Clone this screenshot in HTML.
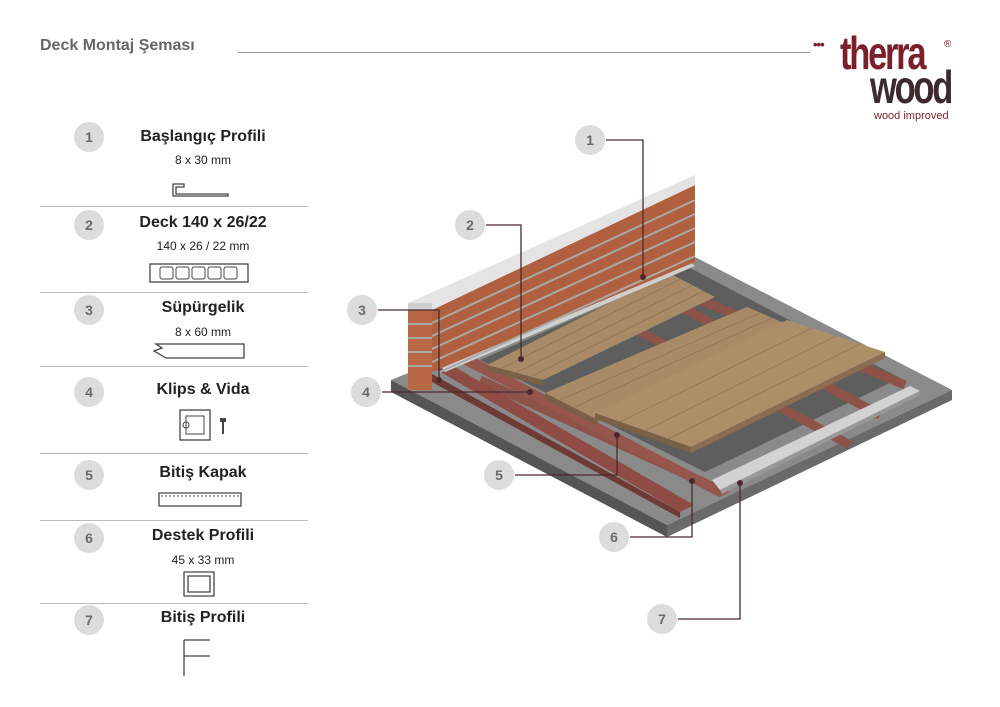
<!DOCTYPE html>
<html><head><meta charset="utf-8"><style>
body{margin:0;width:1000px;height:707px;background:#fff;font-family:"Liberation Sans",sans-serif;position:relative;overflow:hidden}
.t{position:absolute;white-space:nowrap}
.c{position:absolute;width:30px;height:30px;border-radius:50%;background:#dcdcdc;color:#6a6a6a;font-weight:bold;font-size:14px;text-align:center;line-height:30px}
.sep{position:absolute;left:40px;width:268px;height:1px;background:#bbb}
.ti{position:absolute;left:100px;width:206px;text-align:center;font-weight:bold;font-size:16px;color:#222}
.su{position:absolute;left:100px;width:206px;text-align:center;font-size:12px;color:#222}
</style></head><body>
<div class="t" style="left:40px;top:37px;font-size:16px;font-weight:bold;color:#666">Deck Montaj Şeması</div>
<div style="position:absolute;left:238px;top:52px;width:572px;height:1px;background:#999"></div>
<div class="t" style="left:813px;top:37px;font-size:13px;color:#7a1f2b;font-weight:bold;letter-spacing:-1px">•••</div>
<div class="t" style="left:840px;top:30px;font-size:46px;line-height:46px;font-weight:bold;color:#7a1f2b;letter-spacing:-3px;transform:scaleX(0.75);transform-origin:left">therra</div>
<div class="t" style="left:944px;top:39px;font-size:10px;color:#7a1f2b">®</div>
<div class="t" style="left:870px;top:64px;font-size:46px;line-height:46px;font-weight:bold;color:#3d2a2c;letter-spacing:-3px;transform:scaleX(0.75);transform-origin:left">wood</div>
<div class="t" style="left:874px;top:110px;font-size:11px;color:#7a1f2b">wood improved</div>

<div class="c" style="left:74px;top:122px">1</div>
<div class="ti" style="top:128px">Başlangıç Profili</div>
<div class="su" style="top:153px">8 x 30 mm</div>
<svg style="position:absolute;left:170px;top:180px" width="60" height="20"><path d="M14 4H3v12h55v-2H6V7h8z" fill="none" stroke="#444" stroke-width="1.3"/></svg>
<div class="sep" style="top:206px"></div>
<div class="c" style="left:74px;top:210px">2</div>
<div class="ti" style="top:214px">Deck 140 x 26/22</div>
<div class="su" style="top:239px">140 x 26 / 22 mm</div>
<svg style="position:absolute;left:148px;top:262px" width="104" height="22"><rect x="2" y="2" width="98" height="18" fill="none" stroke="#444" stroke-width="1.3"/><g fill="none" stroke="#444"><rect x="12" y="5" width="13" height="12" rx="2"/><rect x="28" y="5" width="13" height="12" rx="2"/><rect x="44" y="5" width="13" height="12" rx="2"/><rect x="60" y="5" width="13" height="12" rx="2"/><rect x="76" y="5" width="13" height="12" rx="2"/></g></svg>
<div class="sep" style="top:292px"></div>
<div class="c" style="left:74px;top:295px">3</div>
<div class="ti" style="top:299px">Süpürgelik</div>
<div class="su" style="top:325px">8 x 60 mm</div>
<svg style="position:absolute;left:152px;top:342px" width="95" height="18"><path d="M4 2H92V16H14L2 9L10 6L4 2Z" fill="none" stroke="#444" stroke-width="1.3"/></svg>
<div class="sep" style="top:366px"></div>
<div class="c" style="left:74px;top:377px">4</div>
<div class="ti" style="top:381px">Klips &amp; Vida</div>
<svg style="position:absolute;left:178px;top:408px" width="60" height="36"><rect x="2" y="2" width="30" height="30" fill="none" stroke="#444" stroke-width="1.3"/><rect x="8" y="8" width="18" height="18" fill="none" stroke="#444"/><circle cx="8" cy="17" r="3" fill="none" stroke="#444"/><path d="M42 10h6v4h-2v12h-2V14h-2z" fill="#444"/></svg>
<div class="sep" style="top:453px"></div>
<div class="c" style="left:74px;top:460px">5</div>
<div class="ti" style="top:464px">Bitiş Kapak</div>
<svg style="position:absolute;left:155px;top:490px" width="90" height="20"><path d="M4 3H86V16H4Z" fill="none" stroke="#444" stroke-width="1.3"/><path d="M6 6H84" stroke="#444" stroke-dasharray="2 2"/></svg>
<div class="sep" style="top:520px"></div>
<div class="c" style="left:74px;top:523px">6</div>
<div class="ti" style="top:527px">Destek Profili</div>
<div class="su" style="top:553px">45 x 33 mm</div>
<svg style="position:absolute;left:182px;top:570px" width="36" height="28"><path d="M2 2H32V26H2Z M6 6H28V22H6Z" fill="none" stroke="#444" stroke-width="1.3"/></svg>
<div class="sep" style="top:603px"></div>
<div class="c" style="left:74px;top:605px">7</div>
<div class="ti" style="top:609px">Bitiş Profili</div>
<svg style="position:absolute;left:180px;top:638px" width="40" height="40"><path d="M4 2V38M4 18H30M4 2H30" fill="none" stroke="#444" stroke-width="1.3"/></svg>

<svg style="position:absolute;left:0;top:0" width="1000" height="707">
<polygon points="391,380 695,257 952,390 667,525" fill="#8a8a8a"/>
<polygon points="391,380 667,525 667,537 391,392" fill="#555"/>
<polygon points="667,525 952,390 952,400 667,537" fill="#6a6a6a"/>
<polygon points="480,360 690,268 900,378 705,472" fill="#5e5e5e"/>
<g stroke="#8d5248" stroke-width="9">
<line x1="480" y1="380" x2="720" y2="490"/><line x1="700" y1="300" x2="905" y2="385"/>
<line x1="600" y1="310" x2="850" y2="445"/><line x1="650" y1="290" x2="880" y2="415"/>
</g>
<polygon points="432,367 446,362 694,505 680,512" fill="#8e4c44"/>
<polygon points="432,374 680,512 680,518 432,382" fill="#6e3a33"/>
<polygon points="461,363 475,358 730,492 719,497" fill="#96564c"/>
<polygon points="712,480 910,386 920,391 720,490" fill="#d2d2d2"/>
<polygon points="720,490 920,391 920,395 722,494" fill="#999"/>
<polygon points="487,365 669,273 715,297 543,380" fill="#a88b66"/>
<polygon points="487,365 543,380 543,386 487,371" fill="#7a6044"/>
<polygon points="545,393 747,307 784,323 598,420" fill="#a88b66"/>
<polygon points="545,393 598,420 598,426 545,399" fill="#7a6044"/>
<polygon points="595,413 787,320 885,352 691,447" fill="#ac8f69"/>
<polygon points="595,413 691,447 691,453 595,419" fill="#7a6044"/>
<polygon points="691,447 885,352 885,358 691,453" fill="#8a6e4f"/>
<g stroke="#8f7452" stroke-width="0.8">
<line x1="500" y1="369" x2="681" y2="279"/><line x1="515" y1="373" x2="693" y2="285"/><line x1="530" y1="377" x2="704" y2="291"/>
<line x1="560" y1="400" x2="760" y2="313"/><line x1="575" y1="407" x2="772" y2="318"/>
<line x1="620" y1="422" x2="812" y2="328"/><line x1="645" y1="431" x2="836" y2="336"/><line x1="668" y1="439" x2="860" y2="344"/>
</g>
<polygon points="440,365 690,262 695,266 445,372" fill="#cfcfcf"/>
<polygon points="432,310 695,185 695,262 432,372" fill="#b0603f"/>
<g stroke="#a9a9a9" stroke-width="2">
<line x1="432" y1="323" x2="695" y2="200"/><line x1="432" y1="336" x2="695" y2="214"/>
<line x1="432" y1="349" x2="695" y2="228"/><line x1="432" y1="362" x2="695" y2="242"/>
<line x1="695" y1="256" x2="440" y2="372"/>
</g>
<polygon points="408,303 695,175 695,185 432,310 408,310" fill="#e4e4e4"/>
<polygon points="408,303 432,303 432,310 408,310" fill="#d0d0d0"/>
<polygon points="408,310 432,310 432,390 408,390" fill="#b86845"/>
<g stroke="#aaa" stroke-width="2"><line x1="408" y1="324" x2="432" y2="324"/><line x1="408" y1="338" x2="432" y2="338"/><line x1="408" y1="352" x2="432" y2="352"/><line x1="408" y1="366" x2="432" y2="366"/></g>
<g fill="none" stroke="#4a2a2e" stroke-width="1.3">
<polyline points="606,140 643,140 643,277"/><polyline points="486,225 521,225 521,359"/>
<polyline points="378,310 439,310 439,380"/><polyline points="382,392 530,392"/>
<polyline points="515,475 617,475 617,435"/><polyline points="630,537 692,537 692,481"/>
<polyline points="678,619 740,619 740,483"/>
</g>
<g fill="#4a2a2e"><circle cx="643" cy="277" r="3"/><circle cx="521" cy="359" r="3"/><circle cx="439" cy="380" r="3"/><circle cx="530" cy="392" r="3"/><circle cx="617" cy="435" r="3"/><circle cx="692" cy="481" r="3"/><circle cx="740" cy="483" r="3"/></g>
</svg>
<div class="c" style="left:575px;top:125px">1</div>
<div class="c" style="left:455px;top:210px">2</div>
<div class="c" style="left:347px;top:295px">3</div>
<div class="c" style="left:351px;top:377px">4</div>
<div class="c" style="left:484px;top:460px">5</div>
<div class="c" style="left:599px;top:522px">6</div>
<div class="c" style="left:647px;top:604px">7</div>
</body></html>
